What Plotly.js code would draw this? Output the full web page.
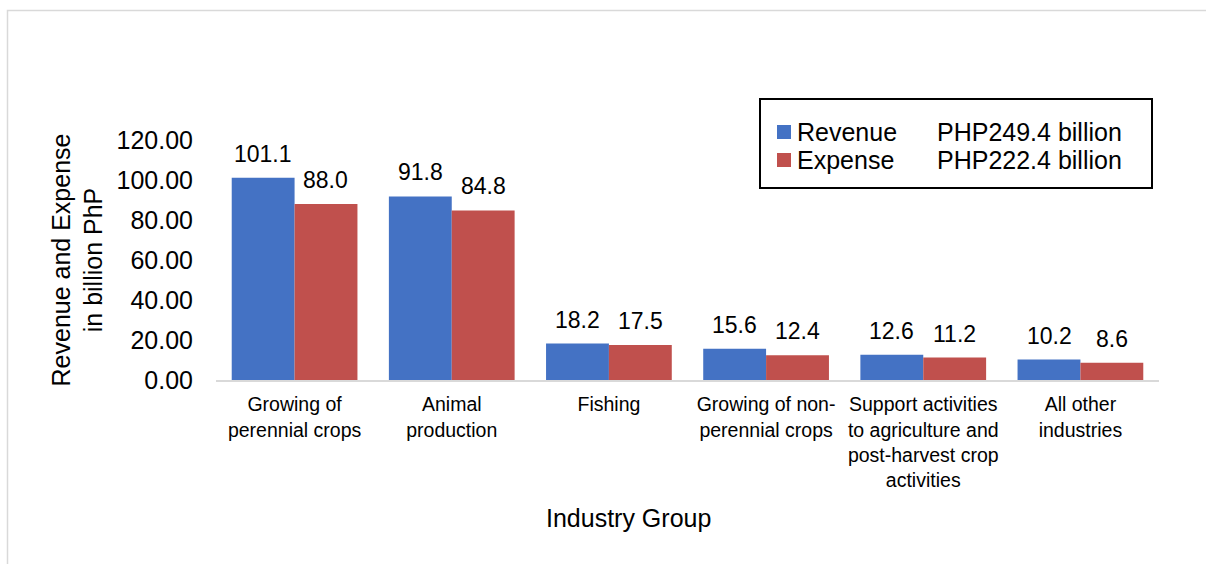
<!DOCTYPE html>
<html>
<head>
<meta charset="utf-8">
<script src="https://cdn.plot.ly/plotly-3.0.1.min.js"></script>
<style>
  html, body { margin: 0; padding: 0; background: #ffffff; }
  #chart { width: 1206px; height: 564px; }
</style>
</head>
<body>
<div id="chart"></div>
<script>
// ---- data ----
var categories = [
  'Growing of<br>perennial crops',
  'Animal<br>production',
  'Fishing',
  'Growing of non-<br>perennial crops',
  'Support activities<br>to agriculture and<br>post-harvest crop<br>activities',
  'All other<br>industries'
];
var revenue = [101.1, 91.8, 18.2, 15.6, 12.6, 10.2];
var expense = [88.0, 84.8, 17.5, 12.4, 11.2, 8.6];
var seriesNames = ['Revenue', 'Expense'];
var seriesTotals = ['PHP249.4 billion', 'PHP222.4 billion'];
var yTickVals = [0, 20, 40, 60, 80, 100, 120];

// ---- styles ----
var FONT = '"Liberation Sans", Arial, sans-serif';
var COLORS = ['#4472C4', '#C0504D'];

var traces = [revenue, expense].map(function (arr, si) {
  return {
    type: 'bar', name: seriesNames[si],
    x: categories, y: arr,
    marker: { color: COLORS[si], line: { width: 0 } },
    showlegend: false
  };
});

// plot area geometry (px) used to convert paper coords
var L = 216, R = 47, T = 140, B = 184, W = 1206, H = 564;
var PW = W - L - R, PH = H - T - B;
function px2x(px) { return (px - L) / PW; }
function py2y(py) { return (H - B - py) / PH; }

var annotations = [];
var barHalf = 31.4;
[revenue, expense].forEach(function (arr, si) {
  arr.forEach(function (v, i) {
    annotations.push({
      x: categories[i], y: v, xref: 'x', yref: 'y',
      xshift: si === 0 ? -barHalf : barHalf, yshift: 9,
      yanchor: 'bottom', xanchor: 'center',
      text: v.toFixed(1), showarrow: false,
      font: { family: FONT, size: 23, color: '#000000' }
    });
  });
});
// x-axis title
annotations.push({
  xref: 'paper', yref: 'paper', x: px2x(628), y: py2y(518),
  xanchor: 'center', yanchor: 'middle', showarrow: false,
  text: 'Industry Group',
  font: { family: FONT, size: 25, color: '#000000' }
});

var shapes = [
  // legend box
  { type: 'rect', xref: 'paper', yref: 'paper',
    x0: px2x(760), x1: px2x(1152), y0: py2y(188), y1: py2y(99),
    line: { color: '#000000', width: 2 }, fillcolor: 'rgba(0,0,0,0)' },
  // outer chart frame (top and left edges visible)
  { type: 'rect', xref: 'paper', yref: 'paper',
    x0: px2x(7.5), x1: px2x(1260), y0: py2y(620), y1: py2y(10.5),
    line: { color: '#d9d9d9', width: 1.5 }, fillcolor: 'rgba(0,0,0,0)' }
];

// custom legend entries
var legendRowsY = [132, 160];
seriesNames.forEach(function (name, si) {
  var cy = legendRowsY[si];
  shapes.push({ type: 'rect', xref: 'paper', yref: 'paper',
    x0: px2x(777), x1: px2x(791), y0: py2y(cy + 7), y1: py2y(cy - 7),
    line: { width: 0 }, fillcolor: COLORS[si] });
  annotations.push({ xref: 'paper', yref: 'paper', x: px2x(795), y: py2y(cy),
    xanchor: 'left', yanchor: 'middle', showarrow: false, text: name,
    font: { family: FONT, size: 25, color: '#000000' } });
  annotations.push({ xref: 'paper', yref: 'paper', x: px2x(935), y: py2y(cy),
    xanchor: 'left', yanchor: 'middle', showarrow: false, text: seriesTotals[si],
    font: { family: FONT, size: 25, color: '#000000' } });
});

var layout = {
  width: W, height: H,
  margin: { l: L, r: R, t: T, b: B, pad: 0 },
  paper_bgcolor: '#ffffff', plot_bgcolor: '#ffffff',
  font: { family: FONT, color: '#000000' },
  barmode: 'group', bargap: 0.2, bargroupgap: 0,
  showlegend: false,
  xaxis: {
    type: 'category',
    showline: true, linecolor: '#d9d9d9', linewidth: 2,
    showgrid: false, zeroline: false, ticks: '',
    tickfont: { family: FONT, size: 19.5, color: '#000000' },
    ticklabelstandoff: 6,
    fixedrange: true
  },
  yaxis: {
    range: [0, 120], tickvals: yTickVals, tickformat: '.2f',
    showline: false, showgrid: false, zeroline: false, ticks: '',
    tickfont: { family: FONT, size: 25, color: '#000000' },
    ticklabelstandoff: 22,
    title: { text: 'Revenue and Expense<br>in billion PhP', standoff: 6,
             font: { family: FONT, size: 25, color: '#000000' } },
    fixedrange: true
  },
  annotations: annotations,
  shapes: shapes
};

Plotly.newPlot('chart', traces, layout, { displayModeBar: false, staticPlot: true });
</script>
</body>
</html>
